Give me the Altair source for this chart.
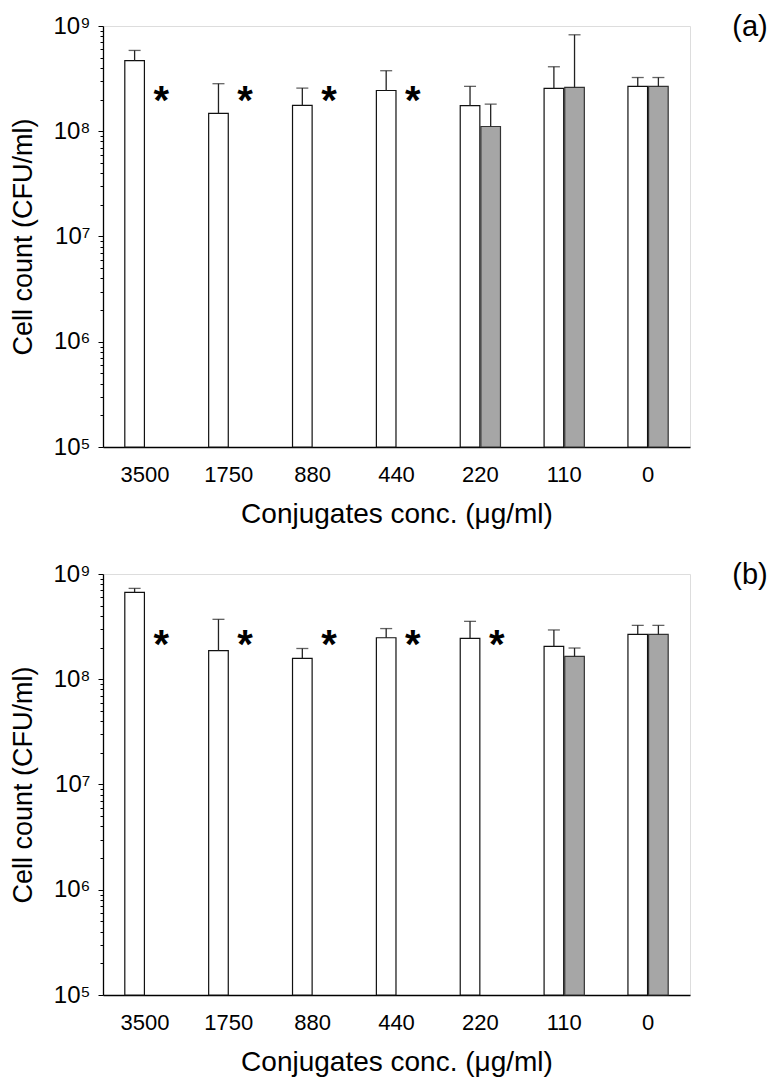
import altair as alt
import pandas as pd

cats = ["3500", "1750", "880", "440", "220", "110", "0"]

a_white = [4.68e8, 1.48e8, 1.76e8, 2.44e8, 1.75e8, 2.55e8, 2.67e8]
a_white_err = [5.86e8, 2.83e8, 2.57e8, 3.76e8, 2.67e8, 4.10e8, 3.24e8]
a_gray = [None, None, None, None, 1.11e8, 2.61e8, 2.67e8]
a_gray_err = [None, None, None, None, 1.81e8, 8.25e8, 3.24e8]
a_stars = ["3500", "1750", "880", "440"]
a_star_level = 2.05e8

b_white = [6.68e8, 1.87e8, 1.58e8, 2.48e8, 2.45e8, 2.05e8, 2.67e8]
b_white_err = [7.30e8, 3.71e8, 1.96e8, 3.03e8, 3.55e8, 2.94e8, 3.25e8]
b_gray = [None, None, None, None, None, 1.65e8, 2.67e8]
b_gray_err = [None, None, None, None, None, 1.98e8, 3.25e8]
b_stars = ["3500", "1750", "880", "440", "220"]
b_star_level = 2.24e8

series = ["white", "gray"]
y_min, y_max = 1e5, 1e9
tick_vals = [k * 10 ** e for e in range(5, 9) for k in range(1, 10)] + [1e9]

FONT = "Liberation Sans"
W, H = 587, 421
IS_DECADE = "abs(log(datum.value)/LN10 - round(log(datum.value)/LN10)) < 1e-6"


def panel(white, white_err, gray, gray_err, stars, star_level, tag):
    rows = []
    for i, c in enumerate(cats):
        rows.append({"cat": c, "series": "white", "value": white[i], "err": white_err[i], "base": y_min})
        if gray[i] is not None:
            rows.append({"cat": c, "series": "gray", "value": gray[i], "err": gray_err[i], "base": y_min})
    df = pd.DataFrame(rows)
    sdf = pd.DataFrame({"cat": stars, "series": ["gray"] * len(stars),
                        "value": [star_level] * len(stars), "s": ["*"] * len(stars)})

    x = alt.X("cat:N", sort=cats,
              scale=alt.Scale(domain=cats, paddingInner=0.52, paddingOuter=0.26),
              axis=alt.Axis(title="Conjugates conc. (μg/ml)", labelAngle=0, ticks=False,
                            labelFont=FONT, labelFontSize=22, labelColor="black", labelPadding=17,
                            titleFont=FONT, titleFontSize=28, titleFontWeight="normal", titleColor="black",
                            titlePadding=15, domainColor="black", domainWidth=1.3))
    xo = alt.XOffset("series:N", scale=alt.Scale(domain=series, paddingInner=0.05))
    yscale = alt.Scale(type="log", domain=[y_min, y_max])
    y = alt.Y("value:Q", scale=yscale,
              axis=alt.Axis(title="Cell count (CFU/ml)", values=tick_vals, grid=False,
                            labelExpr=IS_DECADE + " ? '10' + ['⁰','¹','²','³','⁴','⁵','⁶','⁷','⁸','⁹'][round(log(datum.value)/LN10)] : ''",
                            labelOverlap=False, labelBound=False, labelFlush=False,
                            labelFont=FONT, labelFontSize=24, labelColor="black", labelPadding=8,
                            tickSize={"condition": {"test": IS_DECADE, "value": 5}, "value": 3},
                            tickColor="black", tickWidth=1,
                            titleFont=FONT, titleFontSize=27, titleFontWeight="normal", titleColor="black",
                            titlePadding=16, domainColor="black", domainWidth=1.3))

    base = alt.Chart(df)
    bars = base.mark_bar(strokeWidth=1.2).encode(
        x=x, xOffset=xo, y=y, y2="base:Q",
        color=alt.Color("series:N", scale=alt.Scale(domain=series, range=["white", "#a6a6a6"]), legend=None),
        stroke=alt.Stroke("series:N", scale=alt.Scale(domain=series, range=["#111111", "#333333"]), legend=None),
    )
    err = base.mark_rule(color="#222222", strokeWidth=1.3).encode(
        x=alt.X("cat:N", sort=cats), xOffset=alt.XOffset("series:N"), y=alt.Y("value:Q"), y2="err:Q")
    cap = base.mark_tick(color="#222222", thickness=1.3, size=12).encode(
        x=alt.X("cat:N", sort=cats), xOffset=alt.XOffset("series:N"), y=alt.Y("err:Q"))
    star = alt.Chart(sdf).mark_text(fontSize=40, fontWeight="bold", font=FONT, dx=6, dy=16,
                                    baseline="alphabetic", color="black").encode(
        x=alt.X("cat:N", sort=cats), xOffset=alt.XOffset("series:N"), y=alt.Y("value:Q"), text="s:N")
    lab = alt.Chart(pd.DataFrame({"t": [tag]})).mark_text(fontSize=29, font=FONT, baseline="middle",
                                                          align="center", color="black").encode(
        x=alt.value(W + 60), y=alt.value(1), text="t:N")
    return alt.layer(bars, err, cap, star, lab).properties(width=W, height=H)


pa = panel(a_white, a_white_err, a_gray, a_gray_err, a_stars, a_star_level, "(a)")
pb = panel(b_white, b_white_err, b_gray, b_gray_err, b_stars, b_star_level, "(b)")

chart = alt.vconcat(pa, pb, spacing=127, bounds="flush").properties(
    padding={"left": 0, "top": 4, "right": 0, "bottom": 0}
).configure_view(stroke=None).configure(background="white")

chart.save("out.html", embed_options={"renderer": "svg", "actions": False})
